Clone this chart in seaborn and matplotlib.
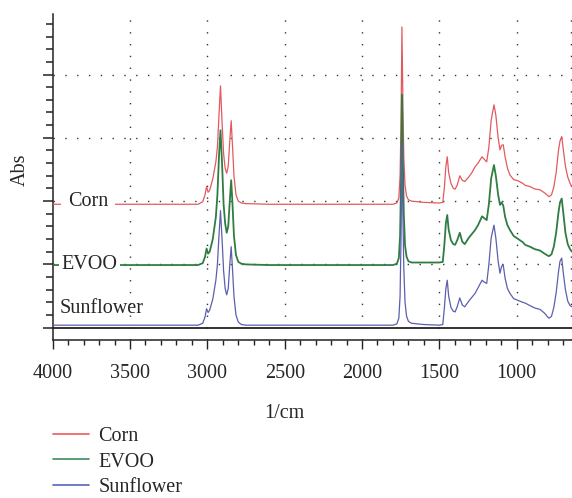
import numpy as np
import pandas as pd
import matplotlib
matplotlib.use("Agg")
import matplotlib.pyplot as plt
from matplotlib.lines import Line2D
from matplotlib.ticker import MultipleLocator
import seaborn as sns

wavenumber = [
    4000, 3100, 3060, 3030, 3015, 3005, 2995, 2985, 2965, 2945, 2935, 2925,
    2915, 2905, 2895, 2885, 2875, 2865, 2855, 2846, 2838, 2828, 2815, 2800,
    2780, 2750, 2600, 2000, 1800, 1775, 1762, 1754, 1748, 1742, 1736, 1730,
    1722, 1712, 1700, 1680, 1640, 1600, 1500, 1478, 1468, 1458, 1449, 1440,
    1425, 1410, 1398, 1385, 1368, 1352, 1336, 1310, 1290, 1270, 1250, 1235,
    1224, 1210, 1194, 1180, 1165, 1147, 1135, 1120, 1108, 1098, 1087, 1075,
    1060, 1043, 1020, 990, 960, 946, 915, 882, 850, 820, 800, 791, 775, 760,
    745, 730, 720, 709, 698, 685, 670, 655, 643,
]

# absorbance traces (stacked as in the original figure)
corn = [
    1.95, 1.95, 1.95, 1.99, 2.10, 2.23, 2.14, 2.17, 2.35, 2.62, 2.85, 3.35,
    3.82, 3.25, 2.75, 2.52, 2.44, 2.55, 2.95, 3.27, 2.90, 2.40, 2.10, 2.00,
    1.97, 1.96, 1.95, 1.95, 1.95, 1.97, 2.05, 2.40, 3.20, 4.75, 3.60, 2.70,
    2.25, 2.08, 2.02, 2.00, 1.99, 1.98, 1.97, 1.98, 2.20, 2.55, 2.70, 2.45,
    2.28, 2.20, 2.19, 2.25, 2.40, 2.33, 2.31, 2.38, 2.45, 2.54, 2.60, 2.66,
    2.70, 2.66, 2.62, 2.85, 3.28, 3.52, 3.36, 3.00, 2.81, 2.88, 2.89, 2.70,
    2.52, 2.41, 2.34, 2.32, 2.28, 2.25, 2.23, 2.19, 2.18, 2.13, 2.09, 2.07,
    2.10, 2.22, 2.45, 2.80, 2.95, 3.02, 2.80, 2.55, 2.38, 2.28, 2.23,
]
evoo = [
    0.99, 0.99, 0.99, 1.02, 1.12, 1.25, 1.17, 1.20, 1.40, 1.75, 2.10, 2.70,
    3.12, 2.60, 1.95, 1.65, 1.50, 1.60, 2.00, 2.33, 1.98, 1.45, 1.15, 1.04,
    1.01, 1.00, 0.99, 0.99, 0.99, 1.01, 1.10, 1.45, 2.30, 3.68, 2.65, 1.80,
    1.30, 1.12, 1.05, 1.03, 1.03, 1.03, 1.03, 1.04, 1.30, 1.65, 1.78, 1.55,
    1.38, 1.32, 1.31, 1.38, 1.50, 1.36, 1.32, 1.42, 1.48, 1.54, 1.62, 1.70,
    1.76, 1.73, 1.70, 1.95, 2.36, 2.57, 2.40, 2.10, 1.94, 1.98, 1.93, 1.75,
    1.62, 1.54, 1.45, 1.40, 1.35, 1.31, 1.28, 1.24, 1.22, 1.17, 1.14, 1.13,
    1.16, 1.28, 1.50, 1.82, 1.98, 2.04, 1.80, 1.50, 1.32, 1.24, 1.20,
]
sunflower = [
    0.04, 0.04, 0.04, 0.07, 0.17, 0.30, 0.24, 0.28, 0.45, 0.75, 1.00, 1.45,
    1.85, 1.40, 0.90, 0.62, 0.52, 0.62, 1.00, 1.28, 0.95, 0.50, 0.20, 0.09,
    0.05, 0.04, 0.04, 0.04, 0.04, 0.06, 0.15, 0.50, 1.40, 2.92, 1.80, 0.95,
    0.40, 0.18, 0.10, 0.07, 0.06, 0.05, 0.04, 0.05, 0.30, 0.62, 0.75, 0.50,
    0.32, 0.26, 0.25, 0.33, 0.47, 0.36, 0.33, 0.42, 0.48, 0.54, 0.63, 0.70,
    0.75, 0.72, 0.70, 1.00, 1.42, 1.62, 1.42, 1.05, 0.86, 0.97, 0.99, 0.78,
    0.62, 0.54, 0.46, 0.43, 0.40, 0.39, 0.35, 0.31, 0.29, 0.23, 0.17, 0.15,
    0.18, 0.32, 0.55, 0.88, 1.05, 1.10, 0.85, 0.60, 0.42, 0.35, 0.33,
]

oils = ["Corn", "EVOO", "Sunflower"]
line_colors = ["#e25a5f", "#2f7d42", "#5b5fae"]
legend_colors = ["#ee5a5a", "#3d8a5c", "#5565b6"]
label_pos = [(3772, 2.0), (3762, 1.0), (3681, 0.31)]
label_pad = [5.0, 1.5, None]

df = pd.concat([
    pd.DataFrame({"wavenumber": wavenumber, "Abs": corn, "oil": "Corn"}),
    pd.DataFrame({"wavenumber": wavenumber, "Abs": evoo, "oil": "EVOO"}),
    pd.DataFrame({"wavenumber": wavenumber, "Abs": sunflower, "oil": "Sunflower"}),
])

sns.set_style("white")
plt.rcParams["font.family"] = ["Liberation Serif", "DejaVu Serif"]
fs = 14.5

fig = plt.figure(figsize=(5.72, 4.98), dpi=100)
ax = fig.add_axes([0.0921, 0.3173, 0.9079, 0.6546])

sns.lineplot(data=df, x="wavenumber", y="Abs", hue="oil", hue_order=oils,
             palette=line_colors, sort=False, estimator=None, legend=False,
             linewidth=1.0, ax=ax, zorder=3)
for line, lw in zip(ax.get_lines(), [0.9, 1.3, 0.9]):
    line.set_linewidth(lw)

ax.set_xlim(4000, 642.5)
ax.set_ylim(-0.194, 4.956)

# dotted grid
dots = (0, (1, 7.5))
for xv in [3500, 3000, 2500, 2000, 1500, 1000, 650]:
    ax.axvline(xv, color="#333333", lw=1.0, ls=dots, zorder=1)
for yv in [1, 2, 3, 4]:
    ax.axhline(yv, color="#333333", lw=1.0, ls=dots, zorder=1)
ax.axhline(0, color="#222222", lw=1.3, zorder=4)

# ticks
ax.xaxis.set_major_locator(MultipleLocator(500))
ax.xaxis.set_minor_locator(MultipleLocator(100))
ax.yaxis.set_major_locator(MultipleLocator(1))
ax.yaxis.set_minor_locator(MultipleLocator(0.2))
ax.tick_params(axis="x", which="major", direction="out", length=6.5, width=1.0,
               color="#222222", labelsize=fs, pad=11, bottom=True)
ax.tick_params(axis="x", which="minor", direction="out", length=3.6, width=1.0,
               color="#222222", bottom=True)
ax.tick_params(axis="y", which="major", direction="out", length=7.2, width=1.1,
               color="#222222", left=True, labelleft=False)
ax.tick_params(axis="y", which="minor", direction="out", length=4.8, width=1.1,
               color="#222222", left=True)

for side in ["top", "right"]:
    ax.spines[side].set_visible(False)
for side in ["left", "bottom"]:
    ax.spines[side].set_color("#222222")
    ax.spines[side].set_linewidth(1.1)

ax.set_xlabel("1/cm", fontsize=fs, va="top")
ax.xaxis.set_label_coords(0.4468, -0.196)
ax.set_ylabel("Abs", fontsize=fs, va="center")
ax.yaxis.set_label_coords(-0.063, 0.521)

# in-plot series names
for name, (xv, yv), pad in zip(oils, label_pos, label_pad):
    bbox = None
    if pad is not None:
        bbox = dict(facecolor="white", edgecolor="none", pad=pad)
    ax.text(xv, yv, name, fontsize=fs, ha="center", va="center", bbox=bbox,
            zorder=5)

handles = [Line2D([0], [0], color=c, lw=1.2) for c in legend_colors]
fig.legend(handles, oils, loc="upper left", bbox_to_anchor=(0.0932, 0.142),
           frameon=False, fontsize=fs, handlelength=1.75, handletextpad=0.5,
           labelspacing=0.30, borderpad=0, borderaxespad=0)

fig.savefig("out.png", dpi=100)
